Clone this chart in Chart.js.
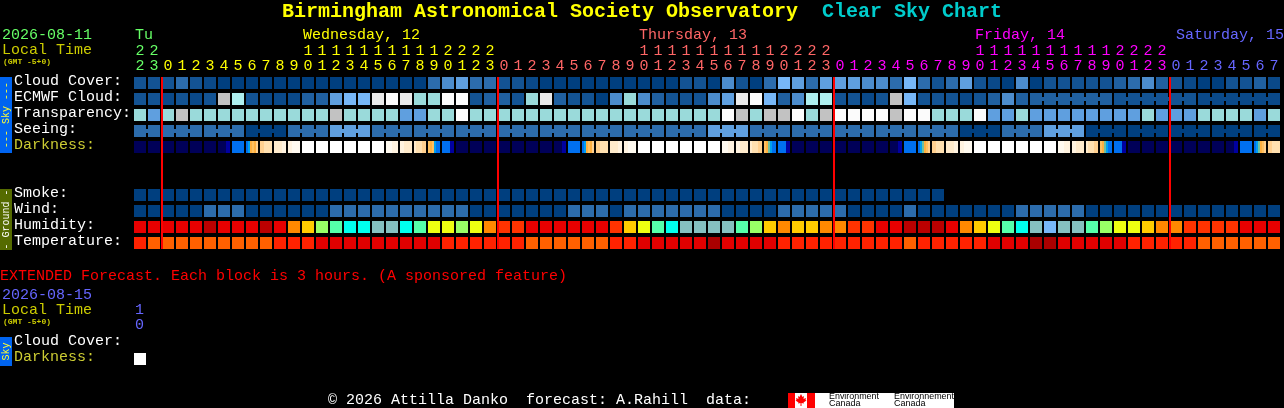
<!DOCTYPE html>
<html>
<head>
<meta charset="utf-8">
<title>Birmingham Astronomical Society Observatory Clear Sky Chart</title>
<script src="https://cdn.jsdelivr.net/npm/chart.js@4"></script>
<style>
  html, body { margin: 0; padding: 0; background: #000; }
  canvas { display: block; }
</style>
</head>
<body>
<canvas id="csc" width="1284" height="408"></canvas>
<script>
// Hour of each block, one block per hour
const hours = [22,23,
  0,1,2,3,4,5,6,7,8,9,10,11,12,13,14,15,16,17,18,19,20,21,22,23,
  0,1,2,3,4,5,6,7,8,9,10,11,12,13,14,15,16,17,18,19,20,21,22,23,
  0,1,2,3,4,5,6,7,8,9,10,11,12,13,14,15,16,17,18,19,20,21,22,23,
  0,1,2,3,4,5,6,7];

// Sky rows, levels 0 (clear) to 10 (overcast)
const cloudCover = [
  1,1,1,2,1,0.5,0,0,0,0,
  0,0,0,0,0,0,0,0,0,0,
  0,2,3,4,2,2,1,1,0.5,0,
  0,0,0,0,0,0,0,0,0,1,
  1,0,3,1,0,2,5,4,2,4,
  4,4,3,3,2,5,2,1,2,4,
  1,0.5,0,3,0,1,1,1,1,1,
  1.5,2,3,1.5,1,0.5,0,0,1,1,
  1.5,0.5];
const ecmwfCloud = [
  1,1,0.5,1,0.5,1,8,7,1,0.5,
  0.5,0.5,1.5,1.5,4,5,5,9,10,9,
  6,6,10,10,1,1.5,1.5,1,6,9,
  1.5,1,1,0,3,6,3,1.5,1,1,
  1,3,4,9,10,5,1.5,3,7,7,
  1,1,0.5,1,8,5,1,1,1,0.5,
  1,1.5,3,1.5,1.5,1.5,1.5,1.5,1.5,1.5,
  1,1,1,1,1,1,0.5,0.5,0.5,0.5,
  0.5,0.5];
const transparency = [
  6,4,6,8,6,6,6,6,6,6,
  6,6,6,6,8,6,6,6,6,4,
  4,6,6,10,6,6,6,6,6,6,
  6,6,6,6,6,6,6,6,6,6,
  6,6,10,8,6,8,8,10,6,8,
  10,10,10,10,8,10,10,6,6,6,
  10,4,4,6,4,4,4,4,4,4,
  4,4,6,4,4,4,6,6,6,6,
  4,6];
const seeing = [
  2,2,2,2,2,2,2,2,0,0,
  0,2,2,2,4,4,4,2,2,2,
  2,2,2,2,2,2,2,2,2,2,
  2,2,2,2,2,2,2,2,2,2,
  2,4,4,4,2,2,2,2,2,2,
  2,2,2,2,2,2,2,2,2,0,
  0,0,2,2,2,4,4,4,0,0,
  0,0,0,0,0,0,0,0,0,0,
  0,0];

// Blocks that share one model value are joined by a small link
const ecmwfLinks = [[64,69],[70,75],[76,81]];
const seeingLinks = [[0,1],[2,4],[5,7],[8,10],[11,13],[14,16],[17,19],[20,22],[23,25],[26,28],
  [29,31],[32,34],[35,37],[38,40],[41,43],[44,46],[47,49],[50,52],[53,55],[56,58],[59,61],
  [62,64],[65,67],[68,70],[71,73],[74,76],[77,79],[80,81]];

// Darkness, one level per block, or six levels where it changes inside the block
const darkness = [
  0,0,0,0,0,0,[0,0,0,0,1,1],2,[2,3,5,6,5,7],[7,7,8,8,8,8],[9,9,9,9,10,10],[10,10,11,11,11,11],
  12,12,12,12,12,12,[11,11,11,10,10,10],[10,10,9,9,9,9],[9,8,8,8,7,7],[6,5,6,3,2,2],[2,2,2,2,1,1],
  0,0,0,0,0,0,0,[0,0,0,0,1,1],2,[2,3,5,6,5,7],[7,7,8,8,8,8],[9,9,9,9,10,10],[10,10,11,11,11,11],
  12,12,12,12,12,12,[11,11,11,10,10,10],[10,10,9,9,9,9],[9,8,8,8,7,7],[6,5,4,3,2,2],[2,2,2,2,1,1],
  0,0,0,0,0,0,0,[0,0,0,0,1,1],2,[2,3,4,5,6,7],[7,7,8,8,8,8],[9,9,9,9,10,10],[10,10,11,11,11,11],
  12,12,12,12,12,12,[11,11,11,10,10,10],[10,10,9,9,9,9],[9,8,8,8,7,7],[6,5,4,3,2,2],[2,2,2,2,1,1],
  0,0,0,0,0,0,0,[0,0,0,0,1,1],2,[2,3,4,5,6,7],[7,7,8,8,8,8]];

// Ground rows
const smoke = [
  0,0,0,0,0,0,0,0,0,0,0,0,0,0,0,0,0,0,0,0,
  0,0,0,0,0,0,0,0,0,0,0,0,0,0,0,0,0,0,0,0,
  0,0,0,0,0,0,0,0,0,0,0,0,0,0,0,0,0,0];
const wind = [
  0,0,0,0,0,2,2,2,0,0,
  0,0,0,0,2,2,2,2,2,2,
  2,2,2,2,0,0,0,0,0,0,
  0,2,2,2,0,2,2,2,2,2,
  2,2,0,0,0,0,2,2,2,2,
  2,0,0,0,0,2,0,0,0,0,
  0,0,0,2,2,2,2,2,0,0,
  0,0,0,0,0,0,0,0,0,0,
  0,0];
const humidity = [
  1,1,1,1,1,0,1,1,1,0,
  1,3,4,6,7,8,8,9,9,8,
  7,5,5,6,5,3,2,2,1,1,
  1,1,1,1,2,4,5,7,8,9,
  9,9,9,7,6,4,3,4,4,3,
  3,2,2,1,1,0,0,0,1,3,
  4,5,7,8,9,10,9,9,7,6,
  5,5,4,3,3,2,2,2,2,1,
  1,1];
const temperature = [
  2,3,3,3,3,3,3,3,3,3,
  2,2,2,1,1,1,1,1,1,1,
  1,1,2,2,2,2,2,2,3,3,
  3,3,3,3,2,2,1,1,1,1,
  1,0,1,1,1,1,2,2,2,2,
  2,2,2,2,2,3,2,2,2,2,
  2,1,1,1,0,0,1,1,1,1,
  1,2,2,2,2,2,3,3,3,3,
  3,3];

// Extended forecast, one 3 hour block
const extendedDarkness = [12];

// Row labels and where they sit on the y axis
const rowLabels = ["Cloud Cover:","ECMWF Cloud:","Transparency:","Seeing:","Darkness:",
  "Smoke:","Wind:","Humidity:","Temperature:","Cloud Cover:","Darkness:"];
const rowSlots = [0,1,2,3,4,7,8,9,10,16.25,17.25];
const rowColors = ["#fff","#fff","#fff","#fff","#cccc33","#fff","#fff","#fff","#fff","#fff","#cccc33"];

// Colour scales
const skyColors = ["#003f7f","#135393","#2c6cac","#4c8ccc","#5f9fdf","#77b7f7","#9adada","#aeeeee","#c2c2c2","#eaeaea","#fbfbfb"];
const darkColors = ["#000058","#0000a0","#0070f0","#00a0f0","#70c0a0","#ffb040","#ffc060","#ffd090","#ffe0b0","#ffebcc","#fff3e0","#fffaf0","#ffffff"];
const humidityColors = ["#bb0000","#e80000","#ff3300","#ff8800","#ffcc00","#eeff11","#99ff66","#55ffaa","#00ffee","#85c0c0","#77b7f7"];
const temperatureColors = ["#aa0000","#e00000","#ff2200","#ff6000"];
const dayColors = ["#66ff66","#ffff00","#ff6666","#ff00ff","#6666ff"];

const MONO = '"Liberation Mono", monospace';
const BLOCK = 0.375;  // half a block, in rows
const LINK = 0.125;   // half a link, in rows

// halves are dithered in the original, so mix the two neighbours
function skyColor(level) {
  if (Number.isInteger(level)) return skyColors[level];
  const a = skyColors[Math.floor(level)], b = skyColors[Math.ceil(level)];
  const mix = (i) => Math.round((parseInt(a.substr(i, 2), 16) + parseInt(b.substr(i, 2), 16)) / 2);
  return "rgb(" + mix(1) + "," + mix(3) + "," + mix(5) + ")";
}

function blocks(values, slot, colorOf) {
  return {
    data: values.map((v, i) => ({ x: i, y: [slot - BLOCK, slot + BLOCK] })),
    backgroundColor: values.map(colorOf),
    barThickness: 12
  };
}

function links(values, ranges, slot, colorOf) {
  const data = [], colors = [];
  ranges.forEach(([from, to]) => {
    for (let i = from; i < to; i++) {
      data.push({ x: i + 0.5, y: [slot - LINK, slot + LINK] });
      colors.push(colorOf(values[i]));
    }
  });
  return { data: data, backgroundColor: colors, barThickness: 2 };
}

// darkness is cut in six thin bars per block
function darknessBars(values, slot) {
  const data = [], colors = [];
  values.forEach((v, i) => {
    for (let k = 0; k < 6; k++) {
      data.push({ x: i + (k - 2.5) / 7, y: [slot - BLOCK, slot + BLOCK] });
      colors.push(darkColors[Array.isArray(v) ? v[k] : v]);
    }
  });
  return { data: data, backgroundColor: colors, barThickness: 2 };
}

// Red line at each midnight, it sits 1px right of the gap
function midnightLines() {
  const data = [];
  hours.forEach((h, i) => {
    if (h === 0) data.push({ x: i - 0.5 + 1 / 14, y: [rowSlots[0] - BLOCK, rowSlots[8] + BLOCK] });
  });
  return { data: data, backgroundColor: "#ff0000", barThickness: 2 };
}

function dayOfColumn(col) {
  let day = 0;
  for (let i = 1; i <= col; i++) if (hours[i] === 0) day++;
  return day;
}

// Everything around the chart that is not an axis
const texts = [
  ["Birmingham Astronomical Society Observatory", 282, 12, "bold 20px " + MONO, "#ffff00"],
  ["Clear Sky Chart", 822, 12, "bold 20px " + MONO, "#00cccc"],
  ["2026-08-11", 2, 35, "15px " + MONO, "#66ff66"],
  ["Local Time", 2, 50, "15px " + MONO, "#cccc00"],
  ["(GMT -5+0)", 3, 62, "bold 8px " + MONO, "#cccc00"],
  ["Tu", 135, 35, "15px " + MONO, dayColors[0]],
  ["Wednesday, 12", 303, 35, "15px " + MONO, dayColors[1]],
  ["Thursday, 13", 639, 35, "15px " + MONO, dayColors[2]],
  ["Friday, 14", 975, 35, "15px " + MONO, dayColors[3]],
  ["Saturday, 15", 1176, 35, "15px " + MONO, dayColors[4]],
  ["EXTENDED Forecast. Each block is 3 hours. (A sponsored feature)", 0, 276, "15px " + MONO, "#ff0000"],
  ["2026-08-15", 2, 295, "15px " + MONO, "#6666ff"],
  ["Local Time", 2, 310, "15px " + MONO, "#cccc00"],
  ["(GMT -5+0)", 3, 322, "bold 8px " + MONO, "#cccc00"],
  ["1", 135, 310, "15px " + MONO, "#6666ff"],
  ["0", 135, 325, "15px " + MONO, "#6666ff"],
  ["\u00a9 2026 Attilla Danko  forecast: A.Rahill  data:", 328, 400, "15px " + MONO, "#ffffff"]
];

const sideBars = [
  [77, 153, "#0064f0", "--- Sky ---", "#ffff33"],
  [189, 250, "#556b00", "- Ground -", "#ffffff"],
  [337, 366, "#0064f0", "Sky", "#ffff33"]
];

const leaf = [[0,-6],[1.5,-3],[3,-4],[2.5,-1],[5,-2],[4.5,0],[5.5,0.5],[2.5,2.5],[3,3.5],[0.5,3],[0.5,6],
  [-0.5,6],[-0.5,3],[-3,3.5],[-2.5,2.5],[-5.5,0.5],[-4.5,0],[-5,-2],[-2.5,-1],[-3,-4],[-1.5,-3]];

const decoration = {
  id: "decoration",
  beforeDraw(chart) {
    const ctx = chart.ctx;
    ctx.save();
    ctx.fillStyle = "#000";
    ctx.fillRect(0, 0, chart.width, chart.height);
    ctx.textBaseline = "middle";
    ctx.textAlign = "left";
    texts.forEach(([t, x, y, font, color]) => {
      ctx.font = font;
      ctx.fillStyle = color;
      ctx.fillText(t, x, y);
    });

    // coloured bars on the far left
    sideBars.forEach(([top, bottom, bg, label, color]) => {
      ctx.fillStyle = bg;
      ctx.fillRect(0, top, 12, bottom - top);
      ctx.save();
      ctx.translate(6, (top + bottom) / 2);
      ctx.rotate(-Math.PI / 2);
      ctx.textAlign = "center";
      ctx.font = "10px " + MONO;
      ctx.fillStyle = color;
      ctx.fillText(label, 0, 0);
      ctx.restore();
    });

    // Environment Canada logo
    ctx.fillStyle = "#fff";
    ctx.fillRect(788, 393, 166, 15);
    ctx.fillStyle = "#ff0000";
    ctx.fillRect(788, 393, 7, 15);
    ctx.fillRect(807, 393, 8, 15);
    ctx.beginPath();
    leaf.forEach(([x, y]) => ctx.lineTo(801 + x, 400 + y));
    ctx.closePath();
    ctx.fill();
    ctx.fillStyle = "#000";
    ctx.font = '9px "Liberation Sans", sans-serif';
    ctx.fillText("Environment", 829, 397, 50);
    ctx.fillText("Canada", 829, 404);
    ctx.fillText("Environnement", 894, 397, 60);
    ctx.fillText("Canada", 894, 404);
    ctx.restore();
  }
};

const chart = new Chart(document.getElementById("csc").getContext("2d"), {
  type: "bar",
  plugins: [decoration],
  data: {
    datasets: [
      midnightLines(),
      blocks(cloudCover, rowSlots[0], skyColor),
      blocks(ecmwfCloud, rowSlots[1], skyColor),
      links(ecmwfCloud, ecmwfLinks, rowSlots[1], skyColor),
      blocks(transparency, rowSlots[2], skyColor),
      blocks(seeing, rowSlots[3], skyColor),
      links(seeing, seeingLinks, rowSlots[3], skyColor),
      darknessBars(darkness, rowSlots[4]),
      blocks(smoke, rowSlots[5], skyColor),
      blocks(wind, rowSlots[6], skyColor),
      blocks(humidity, rowSlots[7], (v) => humidityColors[v]),
      blocks(temperature, rowSlots[8], (v) => temperatureColors[v]),
      darknessBars(extendedDarkness, rowSlots[10])
    ]
  },
  options: {
    responsive: false,
    animation: false,
    devicePixelRatio: 1,
    events: [],
    layout: { padding: { left: 14, right: 3, top: 0, bottom: 41 } },
    // no inflate, the bars have to stay crisp
    datasets: { bar: { grouped: false, inflateAmount: 0 } },
    plugins: { legend: { display: false }, tooltip: { enabled: false } },
    scales: {
      x: {
        type: "linear",
        position: "top",
        min: -0.5,
        max: 81.5,
        offset: false,
        grid: { display: false, drawTicks: false },
        border: { display: false },
        afterBuildTicks(scale) { scale.ticks = hours.map((h, i) => ({ value: i })); },
        afterFit(scale) { scale.height = 75; scale.paddingLeft = 0; scale.paddingRight = 0; },
        ticks: {
          autoSkip: false,
          maxRotation: 0,
          minRotation: 0,
          padding: 1,
          crossAlign: "near",
          font: { family: MONO, size: 15, lineHeight: 1 },
          color: (c) => dayColors[dayOfColumn(c.index)],
          callback(value, i) {
            const h = hours[i];
            return [h < 10 ? "" : String(Math.floor(h / 10)), String(h % 10)];
          }
        }
      },
      y: {
        type: "linear",
        reverse: true,
        min: -0.5,
        max: 17.75,
        grid: { display: false, drawTicks: false },
        border: { display: false },
        afterBuildTicks(scale) { scale.ticks = rowSlots.map((s) => ({ value: s })); },
        afterFit(scale) { scale.width = 119; },
        ticks: {
          autoSkip: false,
          crossAlign: "far",
          padding: 0,
          labelOffset: -2,
          font: { family: MONO, size: 15 },
          color: (c) => rowColors[c.index],
          callback(value, i) { return rowLabels[i]; }
        }
      }
    }
  }
});
</script>
</body>
</html>
